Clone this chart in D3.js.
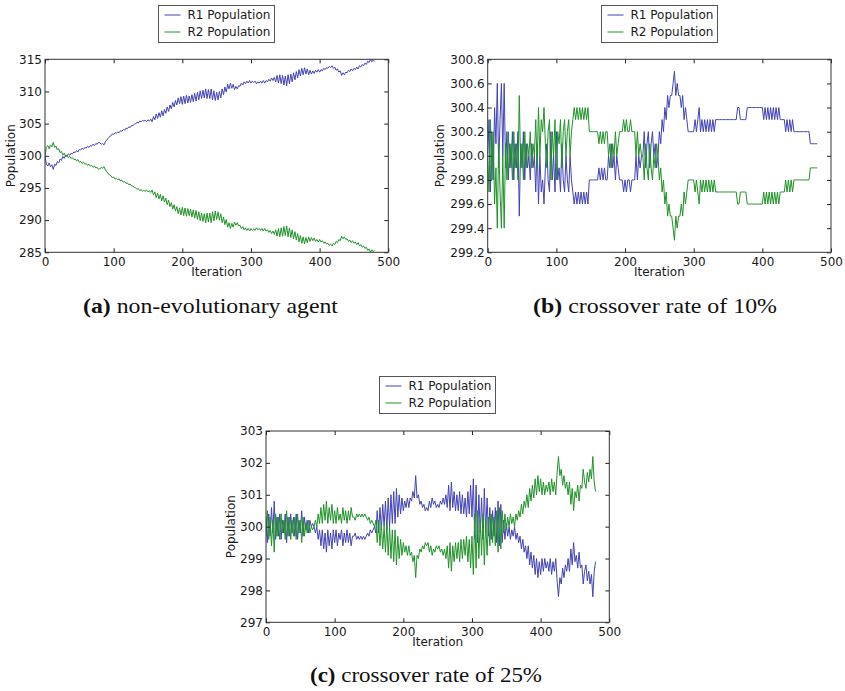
<!DOCTYPE html>
<html>
<head>
<meta charset="utf-8">
<script src="https://cdn.jsdelivr.net/npm/d3@7"></script>
<style>
  body { margin: 0; background: #fff; }
  svg { display: block; }
</style>
</head>
<body>
<div id="chart"></div>
<script>
// one stored value every 2 iterations, 0..480
const STEP = 2;
const seriesNames = ["R1 Population", "R2 Population"];
const xTicks = [0, 100, 200, 300, 400, 500];
const yTicksA = [285, 290, 295, 300, 305, 310, 315];
const yTicksB = [299.2, 299.4, 299.6, 299.8, 300.0, 300.2, 300.4, 300.6, 300.8];
const yTicksC = [297, 298, 299, 300, 301, 302, 303];
const captions = [
  ["(a)", " non-evolutionary agent"],
  ["(b)", " crossover rate of 10%"],
  ["(c)", " crossover rate of 25%"]
];

// (a) non-evolutionary agent
const r1A = [
  300.0, 298.7, 298.4, 298.9, 298.3, 298.6, 297.9, 298.7, 298.5, 299.1,
  298.9, 299.5, 299.3, 299.9, 299.6, 300.1, 299.9, 300.3, 300.1, 300.4,
  300.3, 300.6, 300.5, 300.8, 300.6, 301.0, 300.9, 301.2, 301.0, 301.3,
  301.2, 301.5, 301.3, 301.6, 301.5, 301.8, 301.6, 301.9, 301.8, 302.1,
  302.0, 301.8, 301.9, 301.7, 302.2, 302.5, 302.7, 303.0, 303.1, 303.4,
  303.3, 303.6, 303.5, 303.7, 303.6, 303.9, 303.8, 304.1, 304.0, 304.3,
  304.2, 304.5, 304.4, 304.7, 304.7, 304.9, 305.0, 305.2, 305.1, 305.4,
  305.3, 305.5, 305.4, 305.5, 305.3, 305.6, 305.4, 305.7, 305.3, 306.1,
  305.6, 306.5, 305.8, 306.7, 306.0, 307.0, 306.2, 307.2, 306.6, 307.6,
  306.9, 307.9, 307.3, 308.3, 307.6, 308.6, 307.9, 309.0, 308.1, 309.2,
  308.0, 309.3, 308.1, 309.4, 308.2, 309.3, 308.3, 309.5, 308.4, 309.7,
  308.5, 309.9, 308.7, 310.1, 308.9, 310.2, 309.0, 310.4, 308.9, 310.3,
  308.9, 310.4, 308.7, 310.1, 308.6, 309.9, 308.7, 310.0, 309.0, 310.4,
  309.5, 310.7, 309.9, 311.1, 310.4, 311.3, 310.5, 311.1, 310.3, 310.8,
  310.4, 310.9, 310.8, 311.3, 311.0, 311.5, 311.2, 311.6, 311.3, 311.7,
  311.3, 311.6, 311.4, 311.6, 311.2, 311.5, 311.3, 311.6, 311.3, 311.7,
  311.3, 311.7, 311.5, 311.9, 311.6, 312.1, 311.7, 312.2, 311.5, 312.5,
  311.3, 312.6, 311.2, 312.5, 311.0, 312.4, 310.9, 312.6, 311.2, 312.7,
  311.5, 312.9, 311.8, 313.1, 312.1, 313.4, 312.4, 313.6, 312.6, 313.7,
  312.7, 313.5, 312.6, 313.3, 312.7, 313.2, 312.8, 313.3, 313.0, 313.4,
  313.0, 313.4, 313.2, 313.6, 313.4, 313.7, 313.6, 313.9, 313.7, 314.0,
  313.6, 313.8, 313.3, 313.5, 313.0, 313.2, 312.5, 312.9, 312.6, 313.0,
  312.9, 313.3, 313.1, 313.5, 313.2, 313.6, 313.4, 313.8, 313.5, 314.0,
  313.8, 314.2, 314.0, 314.4, 314.2, 314.7, 314.5, 315.0, 314.6, 314.9,
  314.7
];
const r2A = [
  300.0, 301.3, 301.6, 301.1, 301.7, 301.4, 302.1, 301.3, 301.5, 300.9,
  301.1, 300.5, 300.7, 300.1, 300.4, 299.9, 300.1, 299.7, 299.9, 299.6,
  299.7, 299.4, 299.5, 299.2, 299.4, 299.0, 299.1, 298.8, 299.0, 298.7,
  298.8, 298.5, 298.7, 298.4, 298.5, 298.2, 298.4, 298.1, 298.2, 297.9,
  298.0, 298.2, 298.1, 298.3, 297.8, 297.5, 297.3, 297.0, 296.9, 296.6,
  296.7, 296.4, 296.5, 296.3, 296.4, 296.1, 296.2, 295.9, 296.0, 295.7,
  295.8, 295.5, 295.6, 295.3, 295.3, 295.1, 295.0, 294.8, 294.9, 294.6,
  294.7, 294.5, 294.6, 294.5, 294.7, 294.4, 294.6, 294.3, 294.7, 293.9,
  294.4, 293.5, 294.2, 293.3, 294.0, 293.0, 293.8, 292.8, 293.4, 292.4,
  293.1, 292.1, 292.7, 291.7, 292.4, 291.4, 292.1, 291.0, 291.9, 290.8,
  292.0, 290.7, 291.9, 290.6, 291.8, 290.7, 291.7, 290.5, 291.6, 290.3,
  291.5, 290.1, 291.3, 289.9, 291.1, 289.8, 291.0, 289.6, 291.1, 289.7,
  291.1, 289.6, 291.3, 289.9, 291.4, 290.1, 291.3, 290.0, 291.0, 289.6,
  290.5, 289.3, 290.1, 288.9, 289.6, 288.7, 289.5, 288.9, 289.7, 289.2,
  289.6, 289.1, 289.2, 288.7, 289.0, 288.5, 288.8, 288.4, 288.7, 288.3,
  288.7, 288.4, 288.6, 288.4, 288.8, 288.5, 288.7, 288.4, 288.7, 288.3,
  288.7, 288.3, 288.5, 288.1, 288.4, 287.9, 288.3, 287.8, 288.5, 287.5,
  288.7, 287.4, 288.8, 287.5, 289.0, 287.6, 289.1, 287.4, 288.8, 287.3,
  288.5, 287.1, 288.2, 286.9, 287.9, 286.6, 287.6, 286.4, 287.4, 286.3,
  287.3, 286.5, 287.4, 286.7, 287.3, 286.8, 287.2, 286.7, 287.0, 286.6,
  287.0, 286.6, 286.8, 286.4, 286.6, 286.3, 286.4, 286.1, 286.3, 286.0,
  286.4, 286.2, 286.7, 286.5, 287.0, 286.8, 287.5, 287.1, 287.4, 287.0,
  287.1, 286.7, 286.9, 286.5, 286.8, 286.4, 286.6, 286.2, 286.5, 286.0,
  286.2, 285.8, 286.0, 285.6, 285.8, 285.3, 285.5, 285.0, 285.4, 285.1,
  285.3
];

// (b) crossover rate of 10%
const r1B = [
  300.0, 300.3, 299.7, 300.2, 299.8, 300.4, 300.1, 300.6, 299.9, 300.3,
  300.6, 300.0, 300.6, 299.9, 300.2, 299.8, 300.1, 299.9, 300.2, 299.8,
  300.1, 299.9, 300.2, 299.5, 300.1, 299.9, 300.2, 299.8, 300.1, 299.9,
  300.0, 299.8, 300.1, 299.9, 300.0, 299.7, 300.1, 299.6, 300.0, 299.7,
  299.8, 299.6, 299.9, 300.1, 299.8, 299.7, 300.2, 299.8, 300.0, 299.7,
  300.2, 299.8, 299.9, 299.7, 300.1, 299.8, 299.7, 300.0, 299.8, 299.7,
  300.0, 299.8, 299.7, 299.6, 299.7, 299.6, 299.7, 299.6, 299.7, 299.6,
  299.7, 299.6, 299.7, 299.6, 299.8, 299.8, 299.8, 299.8, 299.8, 299.8,
  299.8, 299.9, 299.8, 299.9, 299.8, 299.9, 299.8, 299.8, 300.0, 299.9,
  300.1, 299.9, 300.0, 299.8, 300.0, 299.9, 299.8, 299.8, 299.8, 299.7,
  299.8, 299.7, 299.8, 299.8, 299.7, 299.8, 299.8, 299.8, 300.0, 299.8,
  300.0, 299.9, 300.0, 300.0, 300.2, 299.9, 300.1, 300.2, 299.9, 300.1,
  300.2, 300.0, 300.1, 299.9, 300.0, 300.2, 300.1, 300.3, 300.2, 300.4,
  300.3, 300.5, 300.4, 300.5, 300.5, 300.6, 300.7, 300.5, 300.6, 300.5,
  300.5, 300.4, 300.5, 300.3, 300.4, 300.3, 300.2, 300.2, 300.2, 300.2,
  300.2, 300.3, 300.2, 300.3, 300.4, 300.2, 300.3, 300.2, 300.3, 300.2,
  300.3, 300.2, 300.3, 300.2, 300.3, 300.2, 300.3, 300.3, 300.3, 300.3,
  300.3, 300.3, 300.3, 300.3, 300.3, 300.3, 300.3, 300.3, 300.3, 300.3,
  300.3, 300.3, 300.4, 300.4, 300.3, 300.3, 300.3, 300.3, 300.3, 300.4,
  300.4, 300.4, 300.4, 300.4, 300.4, 300.4, 300.4, 300.4, 300.4, 300.4,
  300.4, 300.3, 300.4, 300.3, 300.4, 300.3, 300.4, 300.3, 300.4, 300.3,
  300.4, 300.3, 300.4, 300.3, 300.3, 300.3, 300.3, 300.2, 300.3, 300.2,
  300.3, 300.2, 300.3, 300.2, 300.2, 300.2, 300.2, 300.2, 300.2, 300.2,
  300.2, 300.2, 300.2, 300.2, 300.2, 300.1, 300.1, 300.1, 300.1, 300.1,
  300.1
];
const r2B = [
  300.0, 299.7, 300.3, 299.8, 300.2, 299.6, 299.9, 299.4, 300.1, 299.7,
  299.4, 300.0, 299.4, 300.1, 299.8, 300.2, 299.9, 300.1, 299.8, 300.2,
  299.9, 300.1, 299.8, 300.5, 299.9, 300.1, 299.8, 300.2, 299.9, 300.1,
  300.0, 300.2, 299.9, 300.1, 300.0, 300.3, 299.9, 300.4, 300.0, 300.3,
  300.2, 300.4, 300.1, 299.9, 300.2, 300.3, 299.8, 300.2, 300.0, 300.3,
  299.8, 300.2, 300.1, 300.3, 299.9, 300.2, 300.3, 300.0, 300.2, 300.3,
  300.0, 300.2, 300.3, 300.4, 300.3, 300.4, 300.3, 300.4, 300.3, 300.4,
  300.3, 300.4, 300.3, 300.4, 300.2, 300.2, 300.2, 300.2, 300.2, 300.2,
  300.2, 300.1, 300.2, 300.1, 300.2, 300.1, 300.2, 300.2, 300.0, 300.1,
  299.9, 300.1, 300.0, 300.2, 300.0, 300.1, 300.2, 300.2, 300.2, 300.3,
  300.2, 300.3, 300.2, 300.2, 300.3, 300.2, 300.2, 300.2, 300.0, 300.2,
  300.0, 300.1, 300.0, 300.0, 299.8, 300.1, 299.9, 299.8, 300.1, 299.9,
  299.8, 300.0, 299.9, 300.1, 300.0, 299.8, 299.9, 299.7, 299.8, 299.6,
  299.7, 299.5, 299.6, 299.5, 299.5, 299.4, 299.3, 299.5, 299.4, 299.5,
  299.5, 299.6, 299.5, 299.7, 299.6, 299.7, 299.8, 299.8, 299.8, 299.8,
  299.8, 299.7, 299.8, 299.7, 299.6, 299.8, 299.7, 299.8, 299.7, 299.8,
  299.7, 299.8, 299.7, 299.8, 299.7, 299.8, 299.7, 299.7, 299.7, 299.7,
  299.7, 299.7, 299.7, 299.7, 299.7, 299.7, 299.7, 299.7, 299.7, 299.7,
  299.7, 299.7, 299.6, 299.6, 299.7, 299.7, 299.7, 299.7, 299.7, 299.6,
  299.6, 299.6, 299.6, 299.6, 299.6, 299.6, 299.6, 299.6, 299.6, 299.6,
  299.6, 299.7, 299.6, 299.7, 299.6, 299.7, 299.6, 299.7, 299.6, 299.7,
  299.6, 299.7, 299.6, 299.7, 299.7, 299.7, 299.7, 299.8, 299.7, 299.8,
  299.7, 299.8, 299.7, 299.8, 299.8, 299.8, 299.8, 299.8, 299.8, 299.8,
  299.8, 299.8, 299.8, 299.8, 299.8, 299.9, 299.9, 299.9, 299.9, 299.9,
  299.9
];

// (c) crossover rate of 25%
const r1C = [
  300.3, 299.5, 300.4, 299.7, 300.6, 299.8, 300.8, 299.6, 300.3, 299.7,
  300.4, 299.6, 300.2, 299.8, 300.4, 299.5, 300.3, 299.7, 300.4, 299.8,
  300.3, 299.7, 300.4, 299.6, 300.2, 299.8, 300.5, 299.7, 300.3, 299.9,
  300.2, 299.8, 300.2, 300.0, 300.1, 300.0, 299.8, 300.0, 299.6, 299.9,
  299.4, 299.9, 299.3, 299.8, 299.2, 299.9, 299.4, 299.8, 299.3, 299.9,
  299.5, 299.9, 299.4, 299.8, 299.6, 299.9, 299.4, 299.8, 299.5, 299.9,
  299.5, 299.8, 299.4, 299.7, 299.7, 299.8, 299.6, 299.7, 299.6, 299.7,
  299.6, 299.7, 299.6, 299.7, 299.8, 299.7, 299.9, 299.8, 299.9, 300.0,
  299.8, 300.5, 299.8, 300.6, 299.9, 300.7, 300.0, 300.8, 299.9, 300.9,
  300.0, 301.0, 300.1, 301.1, 300.1, 301.2, 300.3, 301.0, 300.4, 300.9,
  300.5, 300.8, 300.6, 300.9, 300.6, 300.9, 300.8, 301.1, 300.9, 301.6,
  300.9, 301.0, 300.7, 300.8, 300.6, 300.7, 300.5, 300.6, 300.5, 300.8,
  300.6, 300.9, 300.7, 300.8, 300.6, 300.7, 300.6, 300.8, 300.7, 300.9,
  300.7, 301.0, 300.6, 301.3, 300.5, 301.4, 300.6, 301.1, 300.5, 301.0,
  300.5, 301.1, 300.4, 301.0, 300.4, 300.9, 300.3, 301.1, 300.4, 301.3,
  300.3, 301.5, 299.6, 301.3, 299.5, 301.0, 299.8, 300.9, 299.6, 301.2,
  299.8, 300.9, 299.7, 300.6, 299.6, 300.5, 299.7, 300.6, 299.5, 300.8,
  299.4, 300.7, 299.5, 300.2, 299.6, 300.1, 299.7, 300.0, 299.6, 299.9,
  299.7, 300.0, 299.6, 299.8, 299.5, 299.7, 299.3, 299.6, 299.2, 299.4,
  299.0, 299.4, 298.8, 299.2, 298.7, 299.1, 298.5, 299.0, 298.4, 298.9,
  298.5, 299.0, 298.6, 299.0, 298.7, 298.9, 298.6, 299.0, 298.5, 298.9,
  298.6, 299.0, 298.3, 297.8, 298.4, 298.2, 298.7, 298.4, 298.8, 298.6,
  299.0, 298.6, 299.3, 298.8, 299.5, 298.9, 299.1, 298.7, 299.2, 298.7,
  298.8, 298.2, 298.6, 298.8, 298.3, 298.6, 298.2, 298.5, 297.8, 298.6,
  298.9
];
const r2C = [
  299.7, 300.5, 299.6, 300.3, 299.4, 300.2, 299.2, 300.4, 299.7, 300.3,
  299.6, 300.4, 299.8, 300.2, 299.6, 300.5, 299.7, 300.3, 299.6, 300.2,
  299.7, 300.3, 299.6, 300.4, 299.8, 300.2, 299.5, 300.3, 299.7, 300.1,
  299.8, 300.2, 299.8, 300.0, 299.9, 300.0, 300.2, 300.0, 300.4, 300.1,
  300.6, 300.1, 300.7, 300.2, 300.8, 300.1, 300.6, 300.2, 300.7, 300.1,
  300.5, 300.1, 300.6, 300.2, 300.4, 300.1, 300.6, 300.2, 300.5, 300.1,
  300.5, 300.2, 300.6, 300.3, 300.3, 300.2, 300.4, 300.3, 300.4, 300.3,
  300.4, 300.3, 300.4, 300.3, 300.2, 300.3, 300.1, 300.2, 300.1, 300.0,
  300.2, 299.5, 300.2, 299.4, 300.1, 299.3, 300.0, 299.2, 300.1, 299.1,
  300.0, 299.0, 299.9, 298.9, 299.9, 298.8, 299.7, 299.0, 299.6, 299.1,
  299.5, 299.2, 299.4, 299.1, 299.4, 299.1, 299.2, 298.9, 299.1, 298.4,
  299.1, 299.0, 299.3, 299.2, 299.4, 299.3, 299.5, 299.4, 299.5, 299.2,
  299.4, 299.1, 299.3, 299.2, 299.4, 299.3, 299.4, 299.2, 299.3, 299.1,
  299.3, 299.0, 299.4, 298.7, 299.5, 298.6, 299.4, 298.9, 299.5, 299.0,
  299.5, 298.9, 299.6, 299.0, 299.6, 299.1, 299.7, 298.9, 299.6, 298.7,
  299.7, 298.5, 300.4, 298.7, 300.5, 299.0, 300.2, 299.1, 300.4, 298.8,
  300.2, 299.1, 300.3, 299.4, 300.4, 299.5, 300.3, 299.4, 300.5, 299.2,
  300.6, 299.3, 300.5, 299.8, 300.4, 299.9, 300.3, 300.0, 300.4, 300.1,
  300.3, 300.0, 300.4, 300.2, 300.5, 300.3, 300.7, 300.4, 300.8, 300.6,
  301.0, 300.6, 301.2, 300.8, 301.3, 300.9, 301.5, 301.0, 301.6, 301.1,
  301.5, 301.0, 301.4, 301.0, 301.3, 301.1, 301.4, 301.0, 301.5, 301.1,
  301.4, 301.0, 301.7, 302.2, 301.6, 301.8, 301.3, 301.6, 301.2, 301.4,
  301.0, 301.4, 300.7, 301.2, 300.5, 301.1, 300.9, 301.3, 300.8, 301.3,
  301.2, 301.8, 301.4, 301.2, 301.7, 301.4, 301.8, 301.5, 302.2, 301.4,
  301.1
];

const COLORS = ["#4343b4", "#22922a"];
const FONT = "'DejaVu Sans', sans-serif";
const INK = "#1a1a1a";

const W = 845, H = 691;
const svg = d3.select("#chart").append("svg")
  .attr("width", W).attr("height", H)
  .style("font-family", FONT);

const clipId = (() => { let n = 0; return () => `clip${n++}`; })();

function drawPanel(p) {
  const { left, top, width, height } = p;
  const x = d3.scaleLinear().domain([0, 500]).range([0, width]);
  const y = d3.scaleLinear().domain(p.yDomain).range([height, 0]);
  const g = svg.append("g").attr("transform", `translate(${left},${top})`);

  const id = clipId();
  g.append("clipPath").attr("id", id)
    .append("rect").attr("width", width).attr("height", height);

  const line = d3.line()
    .x((d, i) => x(i * STEP))
    .y(d => y(d));

  const lines = g.append("g").attr("clip-path", `url(#${id})`);
  p.series.forEach((s, k) => {
    lines.append("path")
      .datum(s)
      .attr("fill", "none")
      .attr("stroke", COLORS[k])
      .attr("stroke-width", 1)
      .attr("stroke-linejoin", "miter")
      .attr("d", line);
  });

  // axes, matplotlib style: ticks pointing inward on all four sides
  const fmt = p.yFormat;
  const ax = g.append("g").attr("transform", `translate(0,${height})`)
    .call(d3.axisBottom(x).tickValues(xTicks).tickSize(-4).tickPadding(5));
  const ay = g.append("g")
    .call(d3.axisLeft(y).tickValues(p.yTicks).tickSize(-4).tickPadding(3).tickFormat(fmt));
  const at = g.append("g")
    .call(d3.axisTop(x).tickValues(xTicks).tickSize(-4).tickFormat(""));
  const ar = g.append("g").attr("transform", `translate(${width},0)`)
    .call(d3.axisRight(y).tickValues(p.yTicks).tickSize(-4).tickFormat(""));
  [ax, ay, at, ar].forEach(a => {
    a.select(".domain").remove();
    a.selectAll("line").attr("stroke", "#222");
    a.selectAll("text").attr("fill", INK).style("font-size", "12px").style("font-family", FONT);
  });

  g.append("rect")
    .attr("width", width).attr("height", height)
    .attr("fill", "none").attr("stroke", "#333").attr("stroke-width", 1);

  g.append("text")
    .attr("x", width / 2).attr("y", height + 24)
    .attr("text-anchor", "middle")
    .attr("fill", INK).style("font-size", "12px")
    .text("Iteration");

  g.append("text")
    .attr("transform", `translate(${p.yLabelX - left},${height / 2}) rotate(-90)`)
    .attr("text-anchor", "middle")
    .attr("dy", "0.35em")
    .attr("fill", INK).style("font-size", "12px")
    .text("Population");

  // legend
  const lg = svg.append("g").attr("transform", `translate(${p.legend[0]},${p.legend[1]})`);
  lg.append("rect")
    .attr("width", 116).attr("height", 37)
    .attr("fill", "#fff").attr("stroke", "#555").attr("stroke-width", 1);
  seriesNames.forEach((name, k) => {
    const ry = 9.5 + k * 17;
    lg.append("line")
      .attr("x1", 6).attr("x2", 22).attr("y1", ry).attr("y2", ry)
      .attr("stroke", COLORS[k]).attr("stroke-width", 1);
    lg.append("text")
      .attr("x", 29).attr("y", ry).attr("dy", "0.35em")
      .attr("fill", INK).style("font-size", "12px")
      .text(name);
  });

  // caption underneath, stretched to the reference width
  const cap = svg.append("text")
    .attr("x", p.caption[0] - p.capWidth / 2).attr("y", p.caption[1])
    .attr("textLength", p.capWidth)
    .attr("lengthAdjust", "spacingAndGlyphs")
    .attr("fill", "#111")
    .style("font-family", "'Liberation Serif', 'Times New Roman', serif")
    .style("font-size", "22px");
  cap.append("tspan").style("font-weight", "bold").text(p.captionText[0]);
  cap.append("tspan").text(p.captionText[1]);
}

drawPanel({
  left: 45, top: 59.3, width: 343.3, height: 193,
  yDomain: [285, 315], yTicks: yTicksA, yFormat: d3.format("d"),
  series: [r1A, r2A], yLabelX: 10.5,
  legend: [158.5, 5.5],
  caption: [210.5, 313], capWidth: 255, captionText: captions[0]
});

drawPanel({
  left: 487.7, top: 59.3, width: 343.3, height: 193,
  yDomain: [299.2, 300.8], yTicks: yTicksB, yFormat: d3.format(".1f"),
  series: [r1B, r2B], yLabelX: 440,
  legend: [601.5, 5.5],
  caption: [655, 313], capWidth: 244, captionText: captions[1]
});

drawPanel({
  left: 266, top: 431, width: 343.3, height: 191.3,
  yDomain: [297, 303], yTicks: yTicksC, yFormat: d3.format("d"),
  series: [r1C, r2C], yLabelX: 231,
  legend: [379.5, 376.5],
  caption: [426, 682], capWidth: 232, captionText: captions[2]
});
</script>
</body>
</html>
